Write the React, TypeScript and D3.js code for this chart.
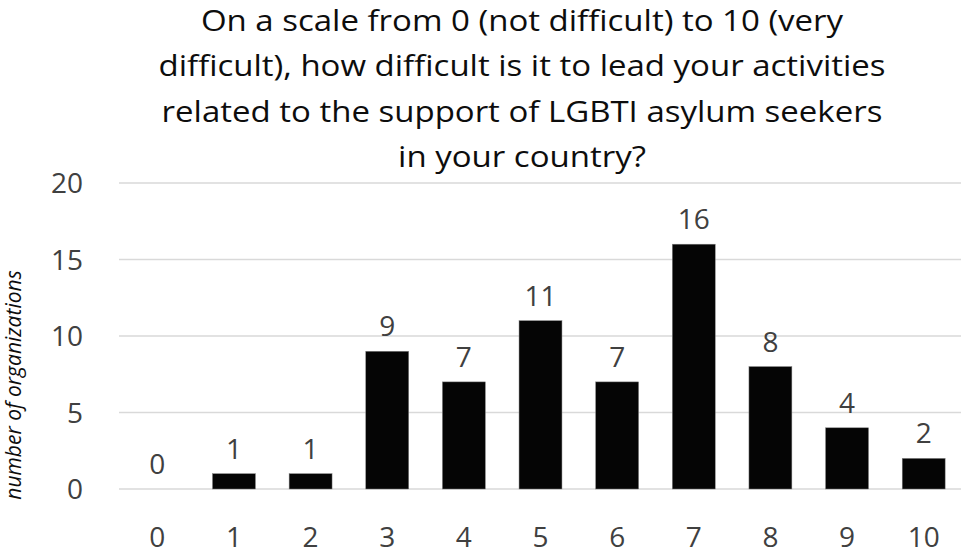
import React from "react";
import * as d3 from "d3";

const categories = ["0", "1", "2", "3", "4", "5", "6", "7", "8", "9", "10"];
const values = [0, 1, 1, 9, 7, 11, 7, 16, 8, 4, 2];
const yTicks = [0, 5, 10, 15, 20];
const titleLines = [
  "On a scale from 0 (not difficult) to 10 (very",
  "difficult), how difficult is it to lead your activities",
  "related to the support of LGBTI asylum seekers",
  "in your country?",
];
const yAxisTitle = "number of organizations";

const W = 961;
const H = 557;
const FONT = "'Open Sans', Lato, sans-serif";
const TEXT = "#404040";

export default function App() {
  const x = d3
    .scaleBand<string>()
    .domain(categories)
    .range([119, 962])
    .paddingInner(0.44)
    .paddingOuter(0.22);
  const y = d3.scaleLinear().domain([0, 20]).range([489, 183]);

  return (
    <div style={{ position: "fixed", left: 0, top: 0, width: W, height: H, background: "#fff" }}>
      <svg width={W} height={H} style={{ display: "block" }}>
        <rect width={W} height={H} fill="#fff" />
        {titleLines.map((t, i) => (
          <text
            key={i}
            transform={`translate(522, ${31 + i * 45.4}) scale(1.1, 1)`}
            textAnchor="middle"
            fontFamily={FONT}
            fontSize={30}
            fill="#0d0d0d"
          >
            {t}
          </text>
        ))}
        {yTicks.map((t) => (
          <g key={t}>
            <line x1={119} x2={961} y1={y(t)} y2={y(t)} stroke="#d9d9d9" strokeWidth={1.5} />
            <text
              x={83}
              y={y(t)}
              dy="0.36em"
              textAnchor="end"
              fontFamily={FONT}
              fontSize={28}
              fill={TEXT}
            >
              {t}
            </text>
          </g>
        ))}
        {categories.map((c, i) => {
          const bx = x(c)!;
          const bw = x.bandwidth();
          const v = values[i];
          return (
            <g key={c}>
              {v > 0 && (
                <rect x={bx} y={y(v)} width={bw} height={y(0) - y(v)} fill="#050505" stroke="#7f7f7f" strokeWidth={0.5} />
              )}
              <text
                x={bx + bw / 2}
                y={y(v) - 15}
                textAnchor="middle"
                fontFamily={FONT}
                fontSize={28}
                fill={TEXT}
              >
                {v}
              </text>
              <text
                x={bx + bw / 2}
                y={537}
                dy="0.36em"
                textAnchor="middle"
                fontFamily={FONT}
                fontSize={28}
                fill={TEXT}
              >
                {c}
              </text>
            </g>
          );
        })}
        <text
          transform={`translate(21, 385) rotate(-90)`}
          textAnchor="middle"
          fontFamily={FONT}
          fontSize={21}
          fontStyle="italic"
          fill="#0d0d0d"
        >
          {yAxisTitle}
        </text>
      </svg>
    </div>
  );
}
